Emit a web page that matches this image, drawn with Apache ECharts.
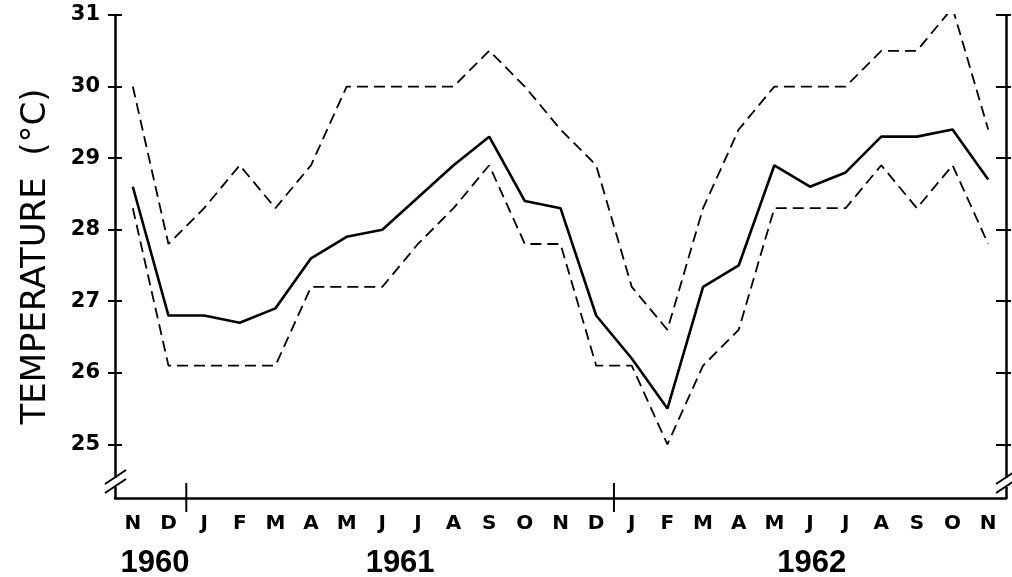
<!DOCTYPE html>
<html>
<head>
<meta charset="utf-8">
<script src="https://cdn.jsdelivr.net/npm/echarts@6/dist/echarts.min.js"></script>
<style>
  html, body { margin: 0; background: #fff; }
  #main { width: 1012px; height: 577px; }
</style>
</head>
<body>
<div id="main"></div>
<script>
// months from Nov 1960 to Nov 1962
const months = ['N', 'D', 'J', 'F', 'M', 'A', 'M', 'J', 'J', 'A', 'S', 'O', 'N',
                'D', 'J', 'F', 'M', 'A', 'M', 'J', 'J', 'A', 'S', 'O', 'N'];
// mean monthly temperature (solid)
const meanTemp = [28.6, 26.8, 26.8, 26.7, 26.9, 27.6, 27.9, 28.0, 28.45, 28.9, 29.3, 28.4, 28.3,
                  26.8, 26.2, 25.5, 27.2, 27.5, 28.9, 28.6, 28.8, 29.3, 29.3, 29.4, 28.7];
// upper range (dashed)
const maxTemp = [30.0, 27.8, 28.3, 28.9, 28.3, 28.9, 30.0, 30.0, 30.0, 30.0, 30.5, 30.0, 29.4,
                 28.9, 27.2, 26.6, 28.3, 29.4, 30.0, 30.0, 30.0, 30.5, 30.5, 31.1, 29.4];
// lower range (dashed)
const minTemp = [28.3, 26.1, 26.1, 26.1, 26.1, 27.2, 27.2, 27.2, 27.8, 28.3, 28.9, 27.8, 27.8,
                 26.1, 26.1, 25.0, 26.1, 26.6, 28.3, 28.3, 28.3, 28.9, 28.3, 28.9, 27.8];
const yTicks = [25, 26, 27, 28, 29, 30, 31];
const years = ['1960', '1961', '1962'];

const chart = echarts.init(document.getElementById('main'));

const yMin = 24.25, yMax = 31;

function yAx(position, inside, showLine, tickLen) {
    return {
        type: 'value',
        position: position,
        min: yMin,
        max: yMax,
        splitLine: { show: false },
        axisLine: { show: showLine, lineStyle: { color: '#000', width: 2.5 } },
        axisTick: { show: true, inside: inside, length: tickLen, customValues: yTicks,
                    lineStyle: { color: '#000', width: 2 } },
        axisLabel: { show: false, customValues: yTicks }
    };
}

const leftAxis = yAx('left', false, true, 7);
leftAxis.axisLabel = {
    show: true, customValues: yTicks, color: '#000', fontSize: 21, fontWeight: 'bold',
    fontFamily: 'DejaVu Sans', margin: 15
};
leftAxis.name = 'TEMPERATURE  (°C)';
leftAxis.nameLocation = 'middle';
leftAxis.nameGap = 62;
leftAxis.nameTextStyle = { color: '#000', fontSize: 34, fontFamily: 'DejaVu Sans' };

chart.setOption({
    animation: false,
    backgroundColor: '#fff',
    grid: { left: 115, right: 6, top: 15, bottom: 79, containLabel: false },
    xAxis: [{
        type: 'category',
        data: months,
        position: 'bottom',
        boundaryGap: true,
        axisLine: { lineStyle: { color: '#000', width: 2.5 } },
        axisTick: { alignWithLabel: true, length: 6, lineStyle: { color: '#000', width: 2 } },
        axisLabel: { color: '#000', fontSize: 20, fontWeight: 'bold', fontFamily: 'DejaVu Sans',
                     margin: 16, interval: 0 }
    }, {
        type: 'category',
        data: months,
        position: 'bottom',
        boundaryGap: true,
        axisLine: { show: false },
        axisTick: { inside: true, alignWithLabel: true, length: 6, lineStyle: { color: '#000', width: 2 } },
        axisLabel: { show: false }
    }],
    yAxis: [
        leftAxis,
        yAx('left', true, false, 7),
        yAx('right', true, true, 10),
        yAx('right', false, false, 5)
    ],
    series: [{
        type: 'line', data: maxTemp, symbol: 'none',
        lineStyle: { color: '#000', width: 1.8, type: [11, 6] }
    }, {
        type: 'line', data: minTemp, symbol: 'none',
        lineStyle: { color: '#000', width: 1.8, type: [11, 6] }
    }, {
        type: 'line', data: meanTemp, symbol: 'none',
        lineStyle: { color: '#000', width: 2.6 }
    }]
});

// decorations: year dividers, year labels, axis breaks
const x0 = chart.convertToPixel({ xAxisIndex: 0 }, 0);
const step = chart.convertToPixel({ xAxisIndex: 0 }, 1) - x0;
const yBottom = chart.convertToPixel({ yAxisIndex: 0 }, yMin);
const xLeft = x0 - step / 2;
const xRight = x0 + step * (months.length - 0.5);

const graphics = [];
const black = { stroke: '#000', lineWidth: 2 };

// long ticks where the year changes (between D and J)
for (let i = 0; i < months.length - 1; i++) {
    if (months[i] === 'D' && months[i + 1] === 'J') {
        const x = x0 + step * (i + 0.5);
        graphics.push({ type: 'line', shape: { x1: x, y1: yBottom - 15, x2: x, y2: yBottom + 14 },
                        style: black, z: 100 });
    }
}

// year labels under the months
const yearPos = [0.62, 7.5, 19.05];
years.forEach((y, k) => {
    graphics.push({
        type: 'text', x: x0 + step * yearPos[k], y: yBottom + 65, z: 100,
        style: { text: y, fill: '#000', font: 'bold 31px "Liberation Sans"',
                 textAlign: 'center', textVerticalAlign: 'middle' }
    });
});

// axis break marks
function brk(x) {
    const yc = yBottom - 16;
    graphics.push({ type: 'rect', shape: { x: x - 3, y: yc - 4, width: 6, height: 9 },
                    style: { fill: '#fff' }, z: 99 });
    [-5, 4].forEach(d => {
        graphics.push({ type: 'line', z: 100, style: black,
            shape: { x1: x - 10, y1: yc + d + 7, x2: x + 11, y2: yc + d - 7 } });
    });
}
brk(xLeft);
brk(xRight);

chart.setOption({ graphic: graphics });
</script>
</body>
</html>
